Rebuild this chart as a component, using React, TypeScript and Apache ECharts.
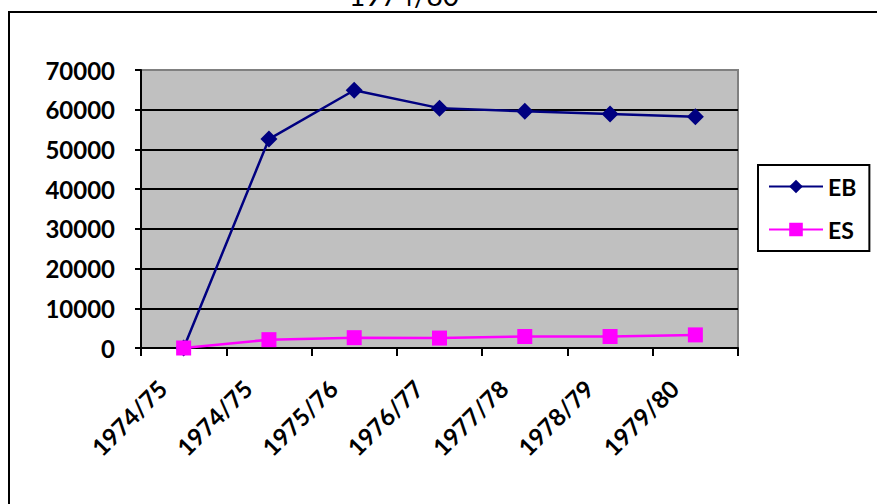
import React, { useEffect, useRef } from "react";
import * as echarts from "echarts";

const categories = ["1974/75", "1974/75", "1975/76", "1976/77", "1977/78", "1978/79", "1979/80"];
const ebValues = [0, 52600, 64900, 60400, 59600, 58900, 58200];
const esValues = [0, 2100, 2600, 2500, 2900, 2900, 3300];
const titleText = "1974/80";
const yMax = 70000;
const yStep = 10000;

export default function App() {
  const ref = useRef<HTMLDivElement>(null);
  useEffect(() => {
    if (!ref.current) return;
    const chart = echarts.init(ref.current, null, { renderer: "svg" });
    const font = "Lato";
    const splitColors: string[] = [];
    const nTicks = yMax / yStep + 1;
    for (let i = 0; i < nTicks; i++) splitColors.push(i === nTicks - 1 ? "#808080" : "#000000");
    chart.setOption({
      animation: false,
      backgroundColor: "#ffffff",
      textStyle: { fontFamily: font },
      graphic: [
        {
          type: "rect",
          shape: { x: 9, y: 12, width: 1000, height: 700 },
          style: { fill: "none", stroke: "#000", lineWidth: 2 },
          z: 0,
          silent: true,
        },
        {
          type: "text",
          x: 404,
          y: 9,
          style: {
            text: titleText,
            font: "28px Lato",
            fill: "#000",
            align: "center",
            verticalAlign: "bottom",
          },
        },
      ],
      grid: {
        left: 141,
        top: 70,
        right: 139,
        bottom: 156,
        show: true,
        backgroundColor: "#C0C0C0",
        borderColor: "#808080",
        borderWidth: 2,
      },
      legend: {
        orient: "vertical",
        left: 758,
        top: 165,
        itemWidth: 54,
        itemHeight: 17,
        itemGap: 18,
        padding: [9, 13, 9, 10],
        borderColor: "#000",
        borderWidth: 2,
        backgroundColor: "#fff",
        textStyle: { fontFamily: font, fontWeight: "bold", fontSize: 23, color: "#000", lineHeight: 25 },
        data: ["EB", "ES"],
      },
      xAxis: {
        type: "category",
        data: categories,
        boundaryGap: true,
        axisLine: { show: true, lineStyle: { color: "#000", width: 2 } },
        axisTick: { show: true, length: 8, lineStyle: { color: "#000", width: 2 }, alignWithLabel: false },
        axisLabel: {
          interval: 0,
          rotate: 45,
          margin: 15,
          padding: [0, 30, 0, 0],
          fontFamily: font,
          fontWeight: "bold",
          fontSize: 24,
          color: "#000",
        },
        splitLine: { show: false },
      },
      yAxis: {
        type: "value",
        min: 0,
        max: yMax,
        interval: yStep,
        axisLine: { show: true, lineStyle: { color: "#000", width: 2 } },
        axisTick: { show: true, length: 6, lineStyle: { color: "#000", width: 2 } },
        axisLabel: {
          margin: 26,
          fontFamily: font,
          fontWeight: "bold",
          fontSize: 24,
          color: "#000",
          formatter: (v: number) => String(v),
        },
        splitLine: { show: true, lineStyle: { color: splitColors, width: 2 } },
      },
      series: [
        {
          name: "EB",
          type: "line",
          data: ebValues,
          symbol: "diamond",
          symbolSize: 17,
          lineStyle: { color: "#000080", width: 2.5 },
          itemStyle: { color: "#000080" },
          z: 3,
        },
        {
          name: "ES",
          type: "line",
          data: esValues,
          symbol: "rect",
          symbolSize: 15,
          lineStyle: { color: "#FF00FF", width: 2.5 },
          itemStyle: { color: "#FF00FF" },
          z: 4,
        },
      ],
    });
    return () => chart.dispose();
  }, []);
  return (
    <div
      ref={ref}
      style={{ position: "absolute", left: 0, top: 0, width: 877, height: 504 }}
    />
  );
}
